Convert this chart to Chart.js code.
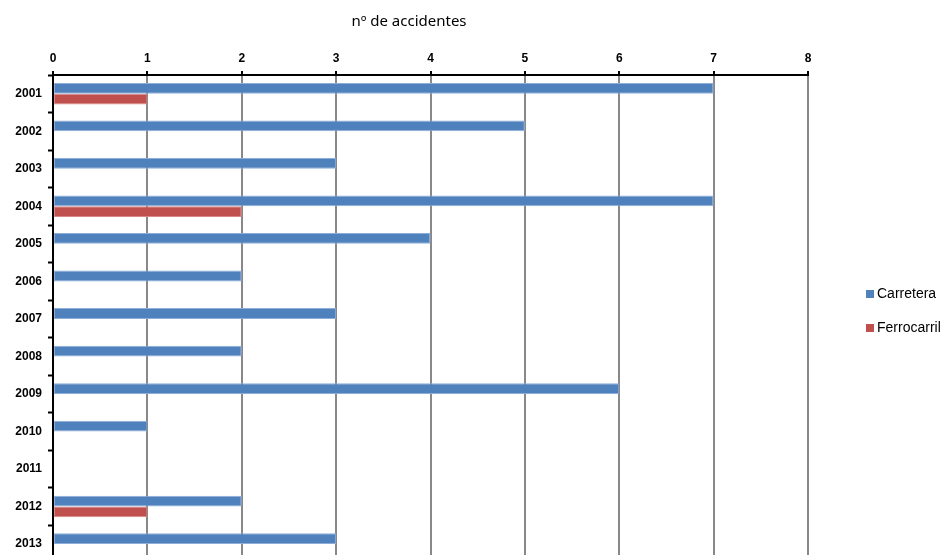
<!DOCTYPE html>
<html lang="es">
  <head>
    <meta charset="UTF-8" />
    <title>Accidentes por año</title>
    <script src="https://cdn.jsdelivr.net/npm/chart.js"></script>
    <style>
      html, body { margin: 0; padding: 0; background: #fff; overflow: hidden; }
      #caja { position: relative; width: 944px; height: 576px; }
    </style>
  </head>
  <body>
    <div id="caja"><canvas id="grafica"></canvas></div>

    <script>
      // Datos de la gráfica
      const anios = ["2001", "2002", "2003", "2004", "2005", "2006", "2007",
                     "2008", "2009", "2010", "2011", "2012", "2013"];
      const carretera   = [7, 5, 3, 7, 4, 2, 3, 2, 6, 1, 0, 2, 3];
      const ferrocarril = [1, 0, 0, 2, 0, 0, 0, 0, 0, 0, 0, 1, 0];
      const titulo = "nº de accidentes";

      const fuenteEjes = { family: "'Liberation Sans', Arial, sans-serif", size: 12, weight: "bold" };

      // Título y leyenda dibujados a mano
      const textos = {
        id: "textos",
        afterDraw(chart) {
          const c = chart.ctx;
          c.save();
          c.fillStyle = "#000";
          c.textBaseline = "middle";
          c.textAlign = "center";
          c.font = "15px 'Noto Sans', sans-serif";
          c.fillText(titulo, 409, 22);

          c.textAlign = "left";
          c.font = "14px 'Liberation Sans', Arial, sans-serif";
          const x = chart.chartArea.right + 58;
          let y = 294;
          chart.data.datasets.forEach((ds) => {
            c.fillStyle = ds.backgroundColor;
            c.fillRect(x, y - 4, 8, 8);
            c.fillStyle = "#000";
            c.fillText(ds.label, x + 11, y);
            y += 34;
          });
          c.restore();
        },
      };

      const borde = (ctx) => (ctx.raw > 0 ? 1 : 0);

      new Chart(document.getElementById("grafica"), {
        type: "bar",
        data: {
          labels: anios,
          datasets: [
            {
              label: "Carretera",
              data: carretera,
              backgroundColor: "#4F81BD",
              borderColor: "#8EAEDA",
              borderWidth: borde,
              borderSkipped: false,
            },
            {
              label: "Ferrocarril",
              data: ferrocarril,
              backgroundColor: "#C0504D",
              borderColor: "#D98A88",
              borderWidth: borde,
              borderSkipped: false,
            },
          ],
        },
        options: {
          indexAxis: "y",
          responsive: true,
          maintainAspectRatio: false,
          animation: false,
          categoryPercentage: 0.575,
          barPercentage: 1.0,
          layout: { padding: { top: 0, left: 0, right: 136, bottom: 0 } },
          plugins: {
            legend: { display: false },
            tooltip: { enabled: false },
          },
          scales: {
            x: {
              position: "top",
              min: 0,
              max: 8,
              ticks: { stepSize: 1, color: "#000", font: fuenteEjes, padding: 5 },
              grid: { color: "#888", lineWidth: 2, tickColor: "#000", tickLength: 4, tickWidth: 2 },
              border: { color: "#000", width: 2 },
              afterFit(scale) { scale.height = 75; },
            },
            y: {
              ticks: { color: "#000", font: fuenteEjes, padding: 6 },
              grid: { offset: true, drawOnChartArea: false, tickColor: "#000", tickLength: 5, tickWidth: 2 },
              border: { color: "#000", width: 2 },
              afterFit(scale) { scale.width = 53; },
            },
          },
        },
        plugins: [textos],
      });
    </script>
  </body>
</html>
